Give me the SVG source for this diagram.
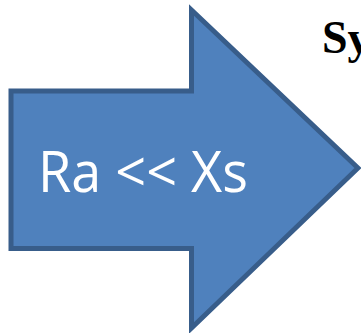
<svg xmlns="http://www.w3.org/2000/svg" width="361" height="333" viewBox="0 0 361 333">
<style>
.arrow{fill:#4f81bd;stroke:#385d8a;stroke-width:5;stroke-linejoin:miter}
.lbl{font-family:"Open Sans","Liberation Sans",sans-serif;font-size:56px;fill:#ffffff}
.sy{font-family:"Liberation Serif",serif;font-weight:bold;font-size:46px;fill:#000000}
</style>
<rect width="361" height="333" fill="#ffffff"/>
<g id="arrow">
<polygon class="arrow" points="11,91 191.5,91 191.5,10 358,168 191.5,328 191.5,248.5 11,248.5"/>
<text class="lbl" x="38" y="192" textLength="210" lengthAdjust="spacingAndGlyphs">Ra &lt;&lt; Xs</text>
</g>
<g id="title">
<text class="sy" x="322" y="53">Sy</text>
</g>
</svg>
